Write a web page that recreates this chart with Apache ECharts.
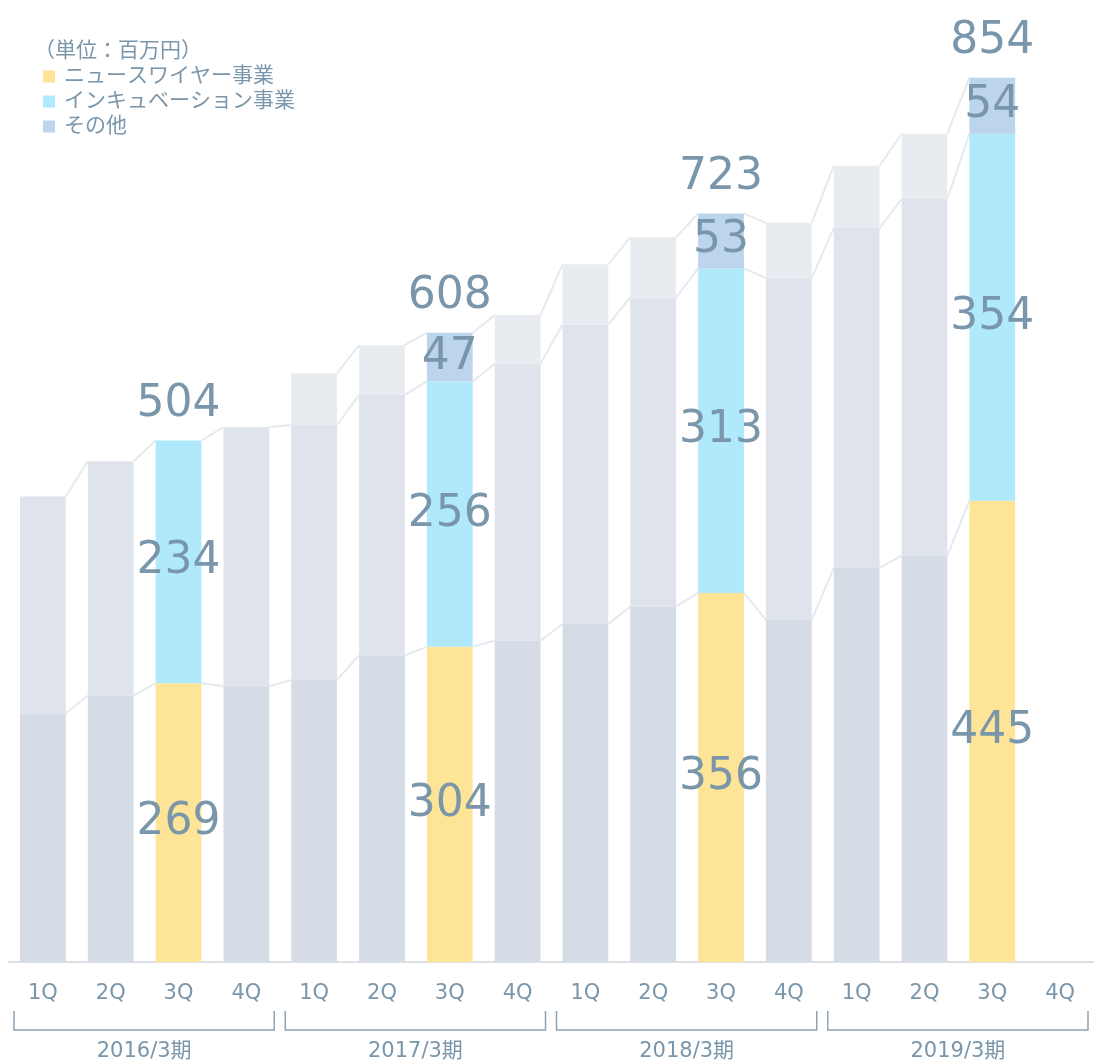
<!DOCTYPE html>
<html>
<head>
<meta charset="utf-8">
<script src="https://cdn.jsdelivr.net/npm/echarts@6/dist/echarts.min.js"></script>
<style>
html,body{margin:0;padding:0;background:#fff;}
#main{width:1094px;height:1063px;}
</style>
</head>
<body>
<div id="main"></div>
<script>
// 四半期 / 決算期
var quarters = ['1Q','2Q','3Q','4Q','1Q','2Q','3Q','4Q','1Q','2Q','3Q','4Q','1Q','2Q','3Q','4Q'];
var years = ['2016/3期','2017/3期','2018/3期','2019/3期'];

// 売上（百万円）
var newsWire = [240,257,269,266, 272,296,304,310, 326,343,356,330, 380,392,445,null];
var incubation = [209,226,234,250, 246,251,256,267, 289,298,313,330, 328,344,354,null];
var others = [null,null,null,null, 50,48,47,47, 58,58,53,53, 60,63,54,null];
var totals = [504,608,723,854];
var highlight = [2,6,10,14];

var textColor = '#7a96aa';
var font = "'DejaVu Sans','Noto Sans CJK JP'";
var barRatio = 0.675;

function makeData(arr, grey){
	var out = [];
	for(var i=0;i<arr.length;i++){
		if(arr[i]==null){ out.push(null); continue; }
		var hi = highlight.indexOf(i)>=0;
		var item = {value:arr[i], label:{show:hi}};
		if(!hi) item.itemStyle = {color:grey};
		out.push(item);
	}
	return out;
}

// 積み上げ位置
var cum1=[],cum2=[],cum3=[];
for(var i=0;i<quarters.length;i++){
	cum1[i] = newsWire[i];
	cum2[i] = newsWire[i]==null ? null : newsWire[i]+incubation[i];
	cum3[i] = others[i]==null ? null : cum2[i]+others[i];
}

// 棒どうしを結ぶ線
var links = [];
[cum1,cum2,cum3].forEach(function(c){
	for(var i=0;i<c.length-1;i++){
		if(c[i]!=null && c[i+1]!=null) links.push([i,c[i],c[i+1]]);
	}
});

var totalPoints = [];
for(var k=0;k<highlight.length;k++){
	var idx = highlight[k];
	totalPoints.push({value:[idx, cum3[idx]!=null?cum3[idx]:cum2[idx]], total:totals[k]});
}

var groups = [];
for(var g=0;g<years.length;g++){
	groups.push({value:[g*4, g*4+3], name:years[g]});
}

var myChart = echarts.init(document.getElementById('main'));

var option = {
	animation:false,
	title:{
		text:'（単位：百万円）',
		left:29, top:36,
		textStyle:{color:textColor, fontSize:21, fontWeight:'normal', fontFamily:font}
	},
	legend:{
		orient:'vertical',
		left:38, top:61,
		itemWidth:12, itemHeight:12, itemGap:4,
		icon:'rect',
		data:['ニュースワイヤー事業','インキュベーション事業','その他'],
		textStyle:{color:textColor, fontSize:21, lineHeight:21, fontFamily:font, padding:[0,0,0,4]}
	},
	grid:{left:9, width:1090, top:29, bottom:101},
	xAxis:{
		type:'category',
		data:quarters,
		axisLine:{lineStyle:{color:'#dcdfe3', width:2}},
		axisTick:{show:false},
		axisLabel:{color:textColor, fontSize:21, margin:21, fontFamily:font}
	},
	yAxis:{type:'value', min:0, max:900, show:false, splitLine:{show:false}},
	series:[
		{
			name:'ニュースワイヤー事業', type:'bar', stack:'s', barWidth:(barRatio*100)+'%',
			itemStyle:{color:'#fde496'}, z:3,
			label:{position:'inside', color:textColor, fontSize:44, fontFamily:font},
			data:makeData(newsWire,'#d5dce6')
		},
		{
			name:'インキュベーション事業', type:'bar', stack:'s',
			itemStyle:{color:'#b0e9fc'}, z:3,
			label:{position:'inside', color:textColor, fontSize:44, fontFamily:font},
			data:makeData(incubation,'#dfe4ec')
		},
		{
			name:'その他', type:'bar', stack:'s',
			itemStyle:{color:'#bdd5ec'}, z:3,
			label:{position:'inside', color:textColor, fontSize:44, fontFamily:font},
			data:makeData(others,'#e8ebf0')
		},
		{
			type:'custom', z:1, silent:true,
			data:links,
			renderItem:function(params, api){
				var i = api.value(0);
				var a = api.coord([i, api.value(1)]);
				var b = api.coord([i+1, api.value(2)]);
				var hw = api.size([1,0])[0]*barRatio/2;
				return {
					type:'line',
					shape:{x1:a[0]+hw, y1:a[1], x2:b[0]-hw, y2:b[1]},
					style:{stroke:'#e6e9ee', lineWidth:2}
				};
			}
		},
		{
			type:'scatter', symbolSize:0, z:5, silent:true,
			itemStyle:{opacity:1},
			data:totalPoints,
			label:{
				show:true, position:'top', distance:14,
				color:textColor, fontSize:44, fontFamily:font,
				formatter:function(p){ return p.data.total; }
			}
		},
		{
			// 決算期のかっこ
			type:'custom', z:2, silent:true, clip:false,
			data:groups,
			renderItem:function(params, api){
				var s = api.coord([api.value(0), 0]);
				var e = api.coord([api.value(1), 0]);
				var w = api.size([1,0])[0];
				var x1 = s[0]-w/2+5, x2 = e[0]+w/2-6;
				var y0 = s[1]+49, y1 = s[1]+68;
				return {
					type:'group',
					children:[
						{type:'polyline', shape:{points:[[x1,y0],[x1,y1],[x2,y1],[x2,y0]]},
						 style:{stroke:'#8ea3b3', lineWidth:1.5, fill:null}},
						{type:'text', x:(x1+x2)/2, y:s[1]+90,
						 style:{text:groups[params.dataIndex].name, fill:textColor, fontSize:21, fontFamily:font,
						 align:'center', verticalAlign:'middle'}}
					]
				};
			}
		}
	]
};

myChart.setOption(option);
</script>
</body>
</html>
